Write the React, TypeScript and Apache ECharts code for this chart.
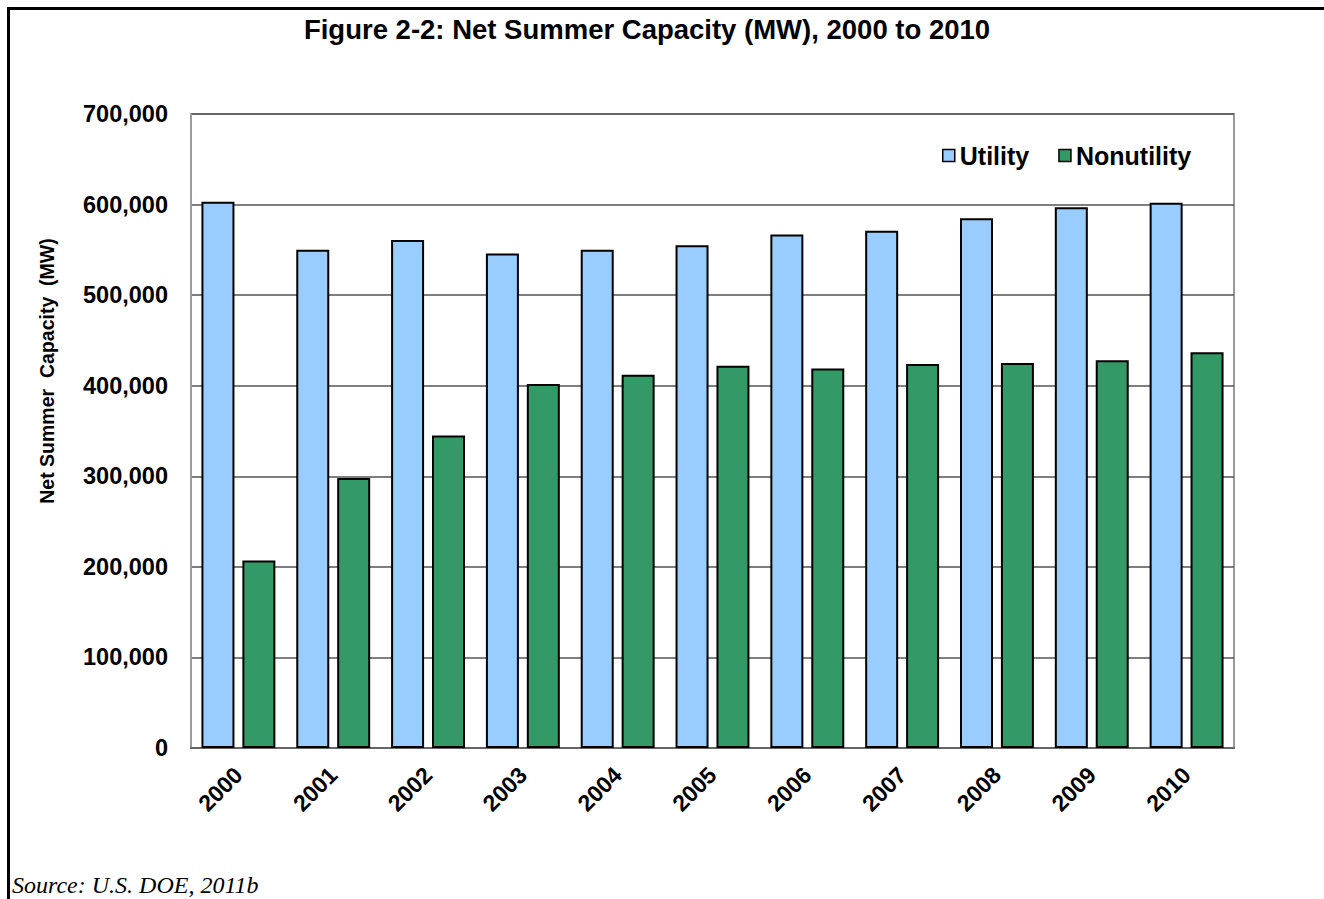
import React, { useEffect, useRef } from "react";
import * as echarts from "echarts";

const years = ["2000", "2001", "2002", "2003", "2004", "2005", "2006", "2007", "2008", "2009", "2010"];
const utility = [603000, 550000, 561000, 546000, 550000, 555000, 567000, 571000, 585000, 597000, 602000];
const nonutility = [207000, 298000, 345000, 402000, 412000, 422000, 419000, 424000, 425000, 428000, 437000];
const titleText = "Figure 2-2: Net Summer Capacity (MW), 2000 to 2010";
const yAxisTitle = "Net Summer  Capacity  (MW)";
const sourceText = "Source: U.S. DOE, 2011b";

export default function App() {
  const ref = useRef<HTMLDivElement>(null);
  useEffect(() => {
    if (!ref.current) return;
    const chart = echarts.init(ref.current, undefined, { renderer: "svg" });
    const font = "'Liberation Sans', Arial, sans-serif";
    chart.setOption({
      animation: false,
      backgroundColor: "#ffffff",
      grid: {
        left: 191,
        top: 114,
        width: 1043,
        height: 634,
        show: true,
        borderColor: "#9a9a9a",
        borderWidth: 2,
        backgroundColor: "transparent",
      },
      legend: {
        left: 937,
        top: 138,
        itemWidth: 12,
        itemHeight: 12,
        itemGap: 29,
        icon: "rect",
        itemStyle: { borderColor: "#000", borderWidth: 1.5 },
        textStyle: { fontFamily: font, fontWeight: "bold", fontSize: 25, color: "#000" },
        data: ["Utility", "Nonutility"],
      },
      xAxis: {
        type: "category",
        data: years,
        axisLine: { show: true, lineStyle: { color: "#666", width: 2 } },
        axisTick: { show: false },
        axisLabel: {
          rotate: 45,
          margin: 23,
          fontFamily: font,
          fontWeight: "bold",
          fontSize: 23,
          color: "#000",
        },
      },
      yAxis: {
        type: "value",
        min: 0,
        max: 700000,
        interval: 100000,
        axisLine: { show: true, lineStyle: { color: "#9a9a9a", width: 2 } },
        axisTick: { show: false },
        splitLine: { show: true, lineStyle: { color: "#555", width: 1.5 } },
        axisLabel: {
          margin: 23,
          fontFamily: font,
          fontWeight: "bold",
          fontSize: 23.5,
          color: "#000",
          formatter: (v: number) => v.toLocaleString("en-US"),
        },
      },
      series: [
        {
          name: "Utility",
          type: "bar",
          data: utility,
          barWidth: 33,
          barGap: "24%",
          itemStyle: { color: "#99ccff", borderColor: "#000", borderWidth: 2 },
        },
        {
          name: "Nonutility",
          type: "bar",
          data: nonutility,
          barWidth: 33,
          itemStyle: { color: "#339966", borderColor: "#000", borderWidth: 2 },
        },
      ],
      graphic: [
        {
          type: "line",
          shape: { x1: 7, y1: 8.5, x2: 1324, y2: 8.5 },
          style: { stroke: "#000", lineWidth: 3 },
        },
        {
          type: "line",
          shape: { x1: 8.5, y1: 7, x2: 8.5, y2: 899 },
          style: { stroke: "#000", lineWidth: 3 },
        },
        {
          type: "text",
          x: 647,
          y: 29,
          style: {
            text: titleText,
            fontFamily: font,
            fontWeight: "bold",
            fontSize: 27.5,
            fill: "#000",
            textAlign: "center",
            textVerticalAlign: "middle",
          },
        },
        {
          type: "text",
          x: 47,
          y: 371,
          rotation: Math.PI / 2,
          style: {
            text: yAxisTitle,
            fontFamily: font,
            fontWeight: "bold",
            fontSize: 19.5,
            fill: "#000",
            textAlign: "center",
            textVerticalAlign: "middle",
          },
        },
        {
          type: "text",
          x: 12,
          y: 885,
          style: {
            text: sourceText,
            fontFamily: "'Liberation Serif', 'Times New Roman', serif",
            fontStyle: "italic",
            fontSize: 24,
            fill: "#000",
            textAlign: "left",
            textVerticalAlign: "middle",
          },
        },
      ],
    });
    return () => chart.dispose();
  }, []);
  return (
    <div
      ref={ref}
      style={{ position: "fixed", left: 0, top: 0, width: 1324, height: 899, background: "#fff" }}
    />
  );
}
